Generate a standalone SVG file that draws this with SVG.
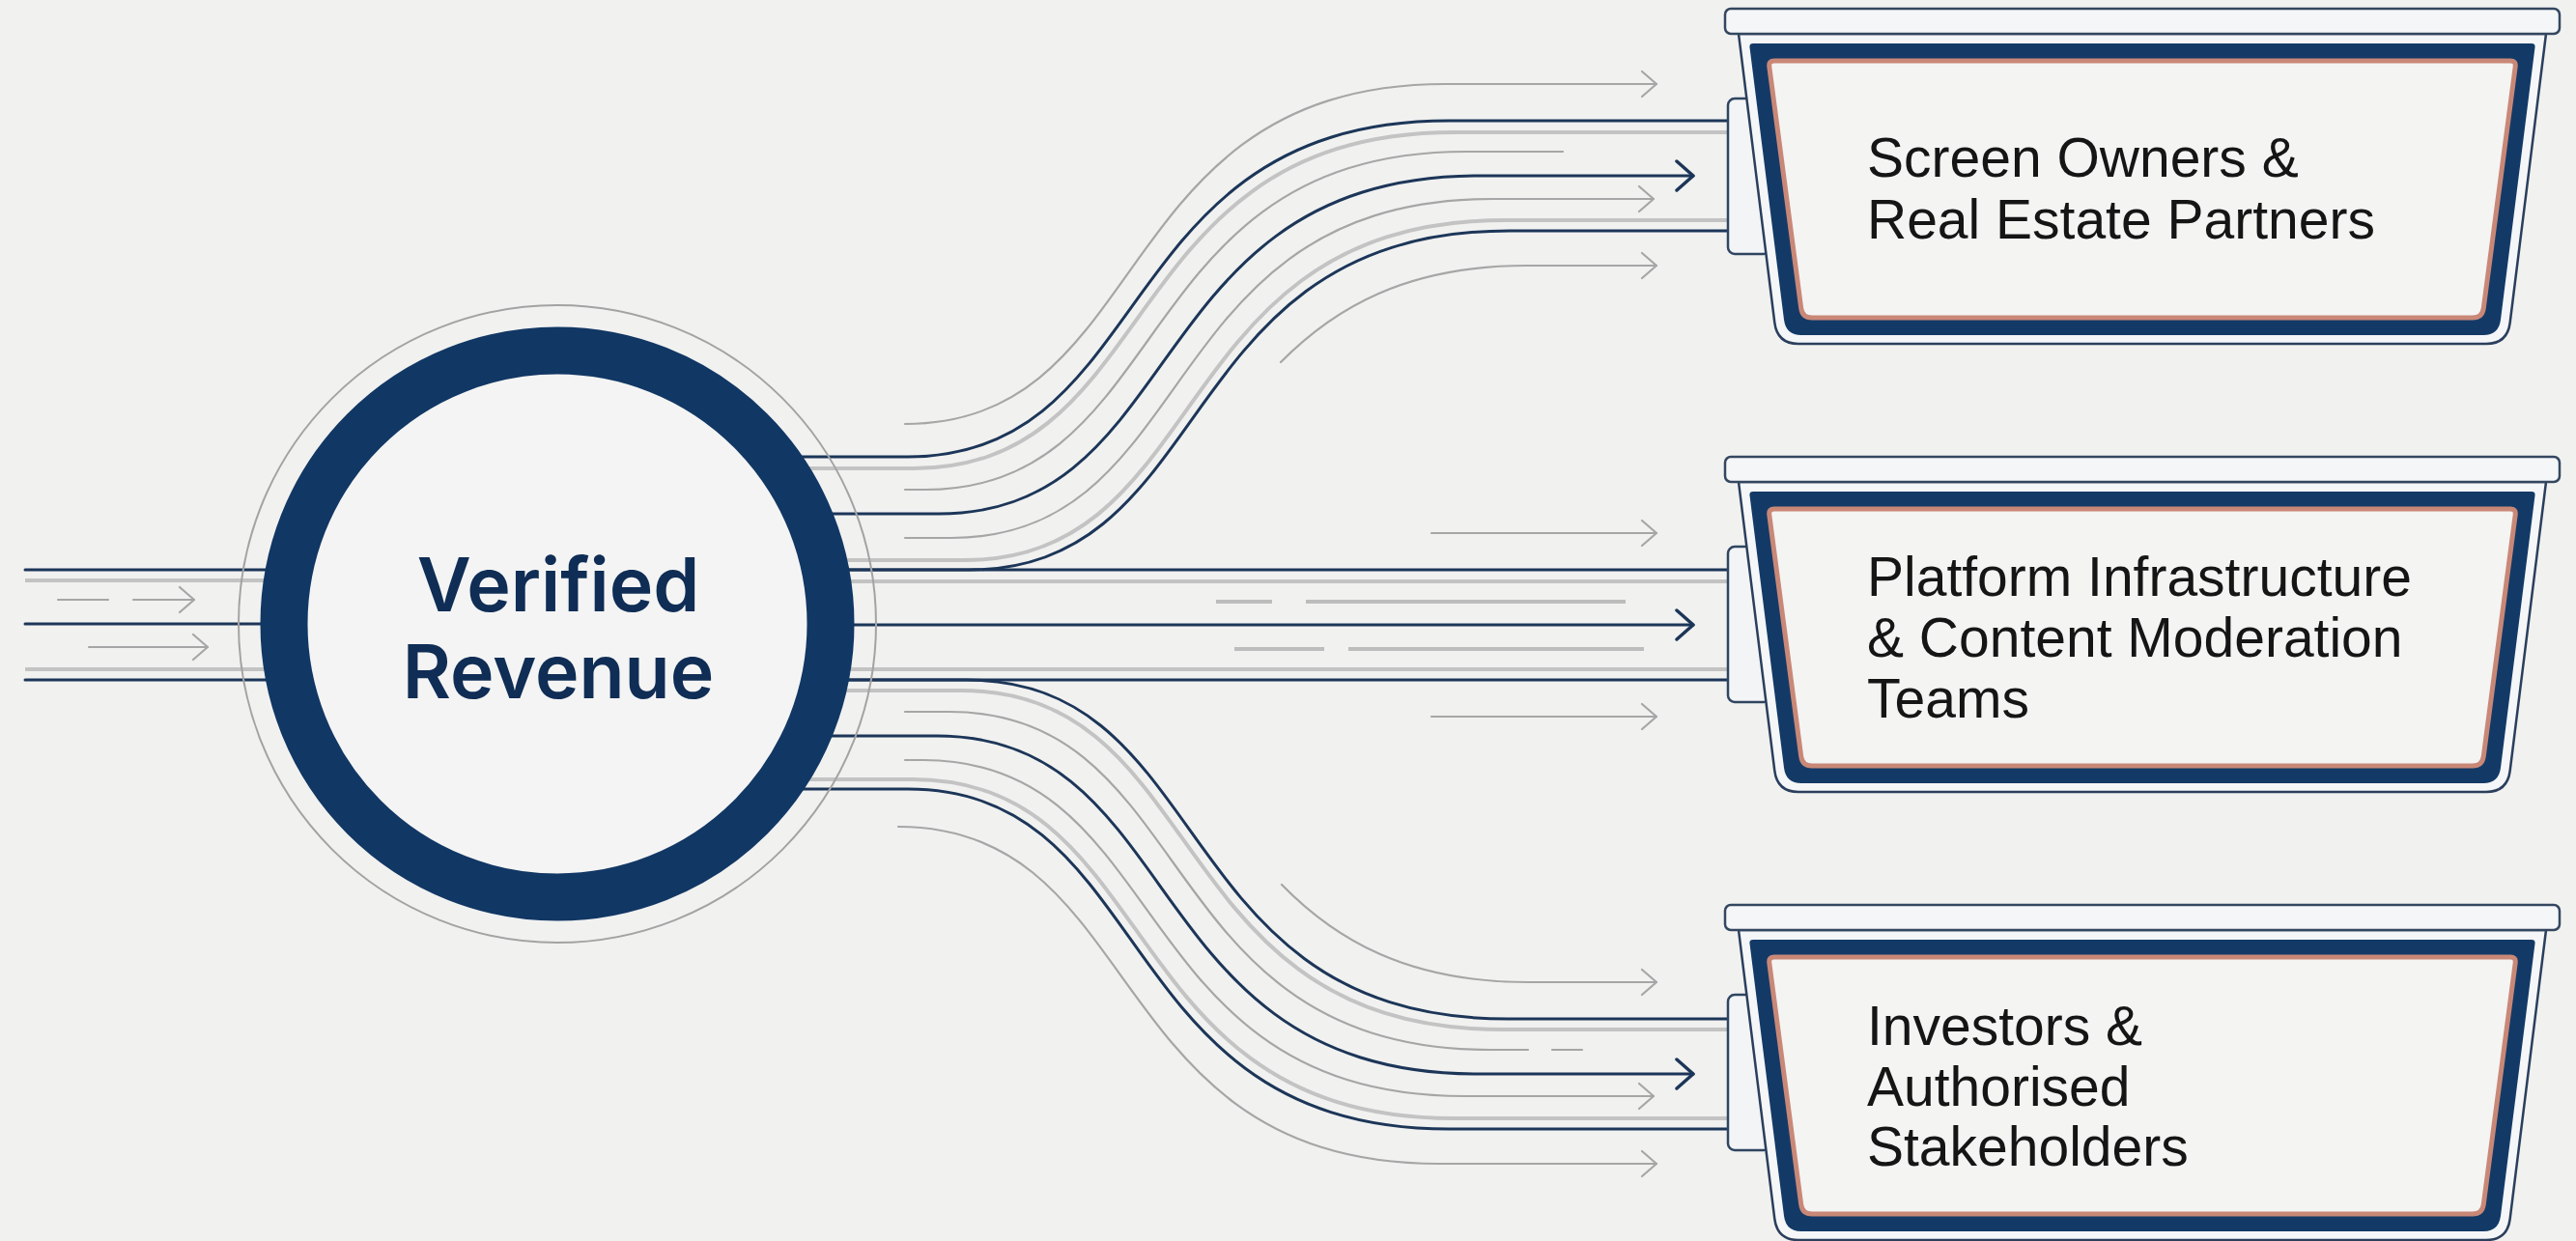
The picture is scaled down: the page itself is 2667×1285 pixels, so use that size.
<svg xmlns="http://www.w3.org/2000/svg" xmlns:xlink="http://www.w3.org/1999/xlink" width="2667" height="1285" viewBox="0 0 2667 1285">
<style>
.navy{fill:none;stroke:#1c3658;stroke-width:3;stroke-linecap:round}
.rail{fill:none;stroke:#c3c3c3;stroke-width:4}
.thin{fill:none;stroke:#a6a6a6;stroke-width:2.2;stroke-linecap:round}
.dash{fill:none;stroke:#bdbdbd;stroke-width:4}
.lbl{font-family:"Liberation Sans",Arial,sans-serif;font-size:57px;fill:#151515}
.hub{font-family:Inter,"Liberation Sans",Arial,sans-serif;font-size:77px;font-weight:600;fill:#0f2d55;text-anchor:middle}
</style>
<defs>
<marker id="ag" viewBox="-18 -16 20 32" markerWidth="20" markerHeight="32" refX="0" refY="0" orient="auto" markerUnits="userSpaceOnUse">
<path d="M-15,-13 L0,0 L-15,13" fill="none" stroke="#a6a6a6" stroke-width="2.2" stroke-linecap="round" stroke-linejoin="round"/>
</marker>
<marker id="an" viewBox="-20 -18 22 36" markerWidth="22" markerHeight="36" refX="0" refY="0" orient="auto" markerUnits="userSpaceOnUse">
<path d="M-17,-15 L0,0 L-17,15" fill="none" stroke="#1c3658" stroke-width="3.5" stroke-linecap="round" stroke-linejoin="round"/>
</marker>
<g id="bin">
<rect x="1789" y="93" width="44" height="161" rx="7" fill="#f3f4f6" stroke="#2f4560" stroke-width="2.5"/>
<path d="M1800,26 L2636,26 L2598.7,325 Q2596,347 2574,347 L1862,347 Q1840,347 1837.3,325 Z" fill="#f5f6f8" stroke="#2b3f5c" stroke-width="2.5"/>
<rect x="1786" y="0" width="864" height="26" rx="6" fill="#f4f6f8" stroke="#34475f" stroke-width="2.5"/>
<path d="M1815,36 L2621,36 Q2625,36 2624.5,40 L2589,322 Q2587,338 2571,338 L1865,338 Q1849,338 1847,322 L1811.5,40 Q1811,36 1815,36 Z" fill="#133a67"/>
<path d="M1837,54 L2599,54 Q2605,54 2604.2,60 L2571.3,310 Q2570,320 2560,320 L1876,320 Q1866,320 1864.7,310 L1831.8,60 Q1831,54 1837,54 Z" fill="#f4f4f3" stroke="#c98877" stroke-width="5"/>
</g>
</defs>
<rect width="2667" height="1285" fill="#f1f1f0"/>

<g id="connectors">
<!-- inputs on the left -->
<path class="navy" d="M26,590 L282,590"/>
<path class="rail" d="M26,601 L282,601"/>
<path class="thin" d="M60,621 L112,621"/>
<path class="thin" d="M138,621 L201,621" marker-end="url(#ag)"/>
<path class="navy" d="M26,646 L285,646"/>
<path class="thin" d="M92,670 L215,670" marker-end="url(#ag)"/>
<path class="rail" d="M26,693 L282,693"/>
<path class="navy" d="M26,704 L282,704"/>

<!-- middle flow -->
<path class="thin" d="M1482,552 L1715,552" marker-end="url(#ag)"/>
<path class="navy" d="M872,590 L1789,590"/>
<path class="rail" d="M874,602 L1789,602"/>
<path class="dash" d="M1259,623 L1317,623 M1352,623 L1683,623"/>
<path class="navy" d="M877,647 L1753,647" marker-end="url(#an)"/>
<path class="dash" d="M1278,672 L1371,672 M1396,672 L1702,672"/>
<path class="rail" d="M873,693 L1789,693"/>
<path class="navy" d="M871,704 L1789,704"/>
<path class="thin" d="M1482,742 L1715,742" marker-end="url(#ag)"/>

<!-- upper flow -->
<path class="thin" d="M937,439 C1197,439 1144,87 1497,87 L1715,87" marker-end="url(#ag)"/>
<path class="navy" d="M822,473 L940,473 C1200,473 1147,125 1500,125 L1789,125"/>
<path class="rail" d="M830,485 L946,485 C1206,485 1153,137 1506,137 L1789,137"/>
<path class="thin" d="M937,507 L958,507 C1218,507 1165,157 1518,157 L1618,157"/>
<path class="navy" d="M854,532 L972,532 C1232,532 1179,182 1532,182 L1753,182" marker-end="url(#an)"/>
<path class="thin" d="M937,557 L985,557 C1245,557 1192,206 1545,206 L1712,206" marker-end="url(#ag)"/>
<path class="rail" d="M869,580 L998,580 C1258,580 1205,228 1558,228 L1789,228"/>
<path class="navy" d="M872,590 L1003,590 C1263,590 1210,239 1563,239 L1789,239"/>
<path class="thin" d="M1326,375 C1381.5,318.8 1455.7,275 1581,275 L1715,275" marker-end="url(#ag)"/>

<!-- lower flow -->
<path class="thin" d="M1327,916 C1382.5,972.8 1456.7,1017 1582,1017 L1715,1017" marker-end="url(#ag)"/>
<path class="navy" d="M871,704 L1001,704 C1261,704 1208,1055 1561,1055 L1789,1055"/>
<path class="rail" d="M869,715 L995,715 C1255,715 1202,1066 1555,1066 L1789,1066"/>
<path class="thin" d="M937,737 L983,737 C1243,737 1190,1087 1543,1087 L1582,1087"/>
<path class="thin" d="M1607,1087 L1638,1087"/>
<path class="navy" d="M854,762 L970,762 C1230,762 1177,1112 1530,1112 L1753,1112" marker-end="url(#an)"/>
<path class="thin" d="M937,787 L956,787 C1216,787 1163,1135 1516,1135 L1712,1135" marker-end="url(#ag)"/>
<path class="rail" d="M830,807 L945,807 C1205,807 1152,1158 1505,1158 L1789,1158"/>
<path class="navy" d="M823,817 L940,817 C1200,817 1147,1169 1500,1169 L1789,1169"/>
<path class="thin" d="M930,856 C1190,856 1137,1205 1490,1205 L1715,1205" marker-end="url(#ag)"/>
</g>

<g id="hub">
<circle cx="577" cy="646" r="330" fill="none" stroke="#a3a3a3" stroke-width="2"/>
<circle cx="577" cy="646" r="283" fill="#f4f4f4" stroke="#113764" stroke-width="49"/>
<text class="hub" x="578" y="633">Verified</text>
<text class="hub" x="578" y="723">Revenue</text>
</g>

<g id="node-screen-owners">
<use xlink:href="#bin" href="#bin" transform="translate(0,9)"/>
<text class="lbl" x="1933" y="183">Screen Owners &amp;</text>
<text class="lbl" x="1933" y="247">Real Estate Partners</text>
</g>

<g id="node-platform">
<use xlink:href="#bin" href="#bin" transform="translate(0,473)"/>
<text class="lbl" x="1933" y="617">Platform Infrastructure</text>
<text class="lbl" x="1933" y="680">&amp; Content Moderation</text>
<text class="lbl" x="1933" y="743">Teams</text>
</g>

<g id="node-investors">
<use xlink:href="#bin" href="#bin" transform="translate(0,937)"/>
<text class="lbl" x="1933" y="1082">Investors &amp;</text>
<text class="lbl" x="1933" y="1145">Authorised</text>
<text class="lbl" x="1933" y="1207">Stakeholders</text>
</g>
</svg>
